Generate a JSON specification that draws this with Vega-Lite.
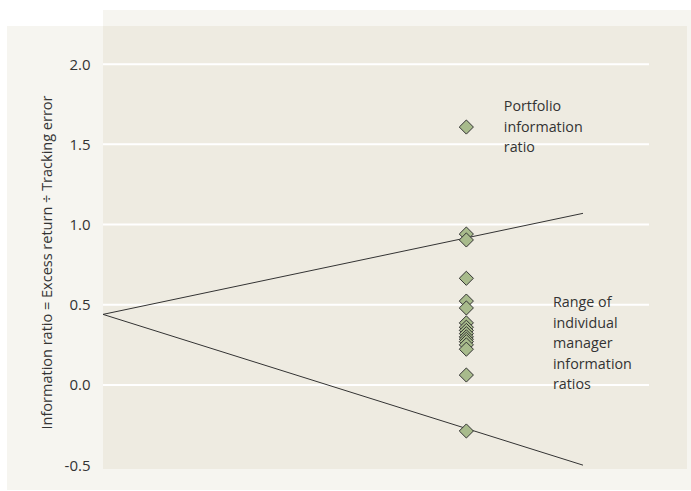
{
  "$schema": "https://vega.github.io/schema/vega-lite/v6.json",
  "width": 584,
  "height": 443,
  "autosize": {"type": "none"},
  "padding": {"left": 103, "top": 26, "right": 4, "bottom": 22},
  "background": "white",
  "config": {
    "view": {"stroke": null},
    "font": "Open Sans"
  },
  "datasets": {
    "points": [
      {"x": 0.757, "ir": 1.608, "kind": "portfolio"},
      {"x": 0.757, "ir": 0.941, "kind": "manager"},
      {"x": 0.757, "ir": 0.904, "kind": "manager"},
      {"x": 0.757, "ir": 0.665, "kind": "manager"},
      {"x": 0.757, "ir": 0.523, "kind": "manager"},
      {"x": 0.757, "ir": 0.48, "kind": "manager"},
      {"x": 0.757, "ir": 0.387, "kind": "manager"},
      {"x": 0.757, "ir": 0.36, "kind": "manager"},
      {"x": 0.757, "ir": 0.34, "kind": "manager"},
      {"x": 0.757, "ir": 0.32, "kind": "manager"},
      {"x": 0.757, "ir": 0.30, "kind": "manager"},
      {"x": 0.757, "ir": 0.285, "kind": "manager"},
      {"x": 0.757, "ir": 0.27, "kind": "manager"},
      {"x": 0.757, "ir": 0.25, "kind": "manager"},
      {"x": 0.757, "ir": 0.223, "kind": "manager"},
      {"x": 0.757, "ir": 0.062, "kind": "manager"},
      {"x": 0.757, "ir": -0.287, "kind": "manager"}
    ],
    "bounds": [
      {"x": 0, "ir": 0.44, "line": "upper"},
      {"x": 1, "ir": 1.07, "line": "upper"},
      {"x": 0, "ir": 0.44, "line": "lower"},
      {"x": 1, "ir": -0.5, "line": "lower"}
    ],
    "grid": [{"ir": 0}, {"ir": 0.5}, {"ir": 1.0}, {"ir": 1.5}, {"ir": 2.0}],
    "notes": [
      {"x": 0.835, "ir": 1.777, "label": "Portfolio|information|ratio"},
      {"x": 0.9375, "ir": 0.555, "label": "Range of|individual|manager|information|ratios"}
    ],
    "one": [{}]
  },
  "layer": [
    {
      "data": {"name": "one"},
      "mark": {"type": "rect", "fill": "#f6f5f0"},
      "encoding": {
        "x": {"datum": -0.2, "type": "quantitative", "scale": {"domain": [0, 1.2167], "nice": false, "zero": false}, "axis": null},
        "x2": {"datum": 1.225},
        "y": {
          "datum": -0.655,
          "type": "quantitative",
          "scale": {"domain": [-0.524, 2.238], "nice": false, "zero": false},
          "axis": {
            "values": [-0.5, 0, 0.5, 1, 1.5, 2],
            "labelExpr": "replace(format(datum.value, '.1f'), '\u2212', '-')",
            "domain": false,
            "ticks": false,
            "grid": false,
            "zindex": 1,
            "labelPadding": 13,
            "labelFontSize": 15,
            "labelColor": "#333333",
            "labelFont": "Open Sans",
            "title": "Information ratio = Excess return \u00f7 Tracking error",
            "titleFont": "Open Sans",
            "titleFontSize": 14.5,
            "titleFontWeight": "normal",
            "titleColor": "#333333",
            "titleX": -49,
            "titleY": 236,
            "titleAngle": -90,
            "titleAlign": "center",
            "titleBaseline": "bottom"
          }
        },
        "y2": {"datum": 2.238}
      }
    },
    {
      "data": {"name": "one"},
      "mark": {"type": "rect", "fill": "#f6f5f0"},
      "encoding": {
        "x": {"datum": 0, "type": "quantitative"},
        "x2": {"datum": 1.225},
        "y": {"datum": 2.238, "type": "quantitative"},
        "y2": {"datum": 2.338}
      }
    },
    {
      "data": {"name": "one"},
      "mark": {"type": "rect", "fill": "#eeebe1"},
      "encoding": {
        "x": {"datum": 0, "type": "quantitative"},
        "x2": {"datum": 1.2167},
        "y": {"datum": -0.524, "type": "quantitative"},
        "y2": {"datum": 2.238}
      }
    },
    {
      "data": {"name": "grid"},
      "mark": {"type": "rule", "color": "white", "strokeWidth": 2},
      "encoding": {
        "y": {"field": "ir", "type": "quantitative"},
        "x": {"datum": 0, "type": "quantitative"},
        "x2": {"datum": 1.1375}
      }
    },
    {
      "data": {"name": "bounds"},
      "mark": {"type": "line", "color": "#333333", "strokeWidth": 1},
      "encoding": {
        "x": {"field": "x", "type": "quantitative"},
        "y": {"field": "ir", "type": "quantitative"},
        "detail": {"field": "line"}
      }
    },
    {
      "data": {"name": "points"},
      "mark": {"type": "point", "shape": "diamond", "filled": true, "size": 200, "fill": "#a8bb8c", "stroke": "#333333", "strokeWidth": 1, "opacity": 1},
      "encoding": {
        "x": {"field": "x", "type": "quantitative"},
        "y": {"field": "ir", "type": "quantitative"}
      }
    },
    {
      "data": {"name": "notes"},
      "mark": {"type": "text", "align": "left", "baseline": "top", "lineBreak": "|", "lineHeight": 20.6, "fontSize": 14.3, "font": "Open Sans", "color": "#333333"},
      "encoding": {
        "x": {"field": "x", "type": "quantitative"},
        "y": {"field": "ir", "type": "quantitative"},
        "text": {"field": "label"}
      }
    }
  ]
}
